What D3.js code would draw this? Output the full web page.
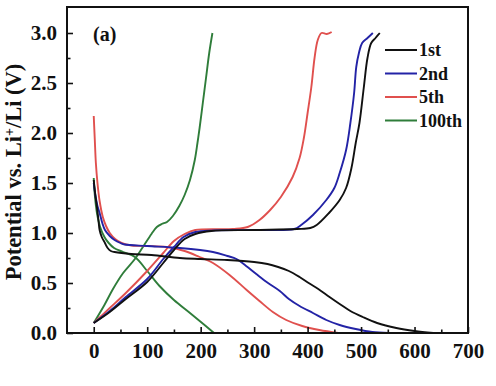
<!DOCTYPE html>
<html><head><meta charset="utf-8">
<script src="https://cdn.jsdelivr.net/npm/d3@7"></script>
<style>body{margin:0;background:#fff}svg{display:block}text{font-family:"Liberation Serif","Times New Roman",serif;font-weight:bold}</style>
</head><body>
<script>
// Capacity (mAh/g) vs potential (V) pairs
const cycles = ["1st", "2nd", "5th", "100th"];
const colors = ["#111111", "#2323a6", "#e0504e", "#2f7d3a"];

const discharge1st = [[0,1.53],[3,1.38],[6,1.26],[9,1.12],[11,1.03],[15,0.96],[21,0.9],[26,0.85],[32,0.82],[39,0.81],[70,0.79],[108,0.78],[161,0.75],[200,0.74],[250,0.73],[300,0.71],[325,0.69],[345,0.66],[365,0.62],[385,0.56],[402,0.50],[420,0.44],[441,0.36],[460,0.29],[480,0.22],[503,0.16],[530,0.10],[566,0.05],[600,0.02],[635,0.0]];
const discharge2nd = [[0,1.5],[3,1.38],[7,1.27],[11,1.2],[16,1.1],[21,1.03],[30,0.97],[39,0.93],[50,0.9],[58,0.885],[100,0.87],[161,0.85],[223,0.81],[250,0.77],[267,0.74],[285,0.67],[304,0.59],[326,0.50],[348,0.42],[365,0.34],[385,0.27],[410,0.20],[435,0.13],[460,0.08],[490,0.04],[521,0.01],[552,0.0]];
const discharge5th = [[0,2.17],[2,1.93],[4,1.7],[7,1.5],[11,1.32],[17,1.16],[23,1.07],[30,1.0],[40,0.94],[52,0.9],[71,0.875],[100,0.87],[136,0.86],[170,0.82],[198,0.76],[223,0.70],[254,0.58],[286,0.43],[310,0.32],[335,0.21],[360,0.13],[390,0.07],[422,0.03],[458,0.0]];
const discharge100th = [[0,1.55],[2,1.38],[6,1.2],[12,1.06],[20,0.96],[28,0.90],[38,0.85],[55,0.81],[77,0.76],[100,0.62],[123,0.47],[150,0.33],[180,0.20],[205,0.09],[225,0.0]];

const charge1st = [[0,0.10],[30,0.21],[60,0.34],[100,0.51],[130,0.70],[150,0.83],[170,0.94],[190,0.99],[220,1.02],[300,1.03],[380,1.04],[405,1.05],[417,1.08],[440,1.2],[460,1.33],[472,1.45],[482,1.65],[490,1.9],[497,2.1],[505,2.45],[512,2.75],[519,2.9],[527,2.95],[535,3.0]];
const charge2nd = [[0,0.10],[30,0.22],[60,0.36],[100,0.54],[130,0.74],[150,0.86],[168,0.96],[190,1.01],[300,1.03],[375,1.04],[388,1.08],[410,1.18],[435,1.33],[450,1.45],[460,1.6],[472,1.83],[480,2.1],[487,2.4],[491,2.66],[496,2.8],[502,2.9],[512,2.95],[522,3.0]];
const charge5th = [[0,0.10],[30,0.25],[60,0.40],[100,0.62],[130,0.80],[150,0.92],[170,0.99],[190,1.03],[260,1.04],[288,1.06],[310,1.13],[330,1.23],[350,1.36],[372,1.56],[385,1.75],[393,1.95],[400,2.2],[407,2.46],[413,2.75],[419,2.93],[426,3.0],[436,2.99],[445,3.01]];
const charge100th = [[0,0.10],[20,0.28],[36,0.44],[55,0.60],[77,0.74],[92,0.86],[108,0.99],[118,1.06],[127,1.09],[137,1.11],[148,1.17],[160,1.27],[170,1.38],[180,1.53],[189,1.73],[194,1.9],[198,2.05],[204,2.3],[210,2.55],[216,2.8],[222,3.0]];

const dischargeCurves = [discharge1st, discharge2nd, discharge5th, discharge100th];
const chargeCurves = [charge1st, charge2nd, charge5th, charge100th];

const xTicks = [0,100,200,300,400,500,600,700];
const xMinor = [50,150,250,350,450,550,650];
const yTicks = [0.0,0.5,1.0,1.5,2.0,2.5,3.0];
const yMinor = [0.25,0.75,1.25,1.75,2.25,2.75];
const yTitle = "Potential vs. Li";
const panelLabel = "(a)";

const W = 496, H = 386;
const m = {left: 67, top: 7, right: 28, bottom: 53};
const svg = d3.select("body").append("svg").attr("width", W).attr("height", H);
const x = d3.scaleLinear().domain([-50, 700]).range([m.left, W - m.right]);
const y = d3.scaleLinear().domain([0, 3.26]).range([H - m.bottom, m.top]);

const line = d3.line().x(d => x(d[0])).y(d => y(d[1])).curve(d3.curveCatmullRom.alpha(0.5));

const g = svg.append("g");
[3,2,1,0].forEach(i => {
  [dischargeCurves[i], chargeCurves[i]].forEach(c => {
    g.append("path").datum(c).attr("d", line).attr("fill", "none")
      .attr("stroke", colors[i]).attr("stroke-width", 1.9).attr("stroke-linejoin", "round");
  });
});

svg.append("rect").attr("x", x(-50)).attr("y", y(3.26)).attr("width", x(700) - x(-50))
  .attr("height", y(0) - y(3.26)).attr("fill", "none").attr("stroke", "#111").attr("stroke-width", 2);

const xAxis = svg.append("g").attr("transform", `translate(0,${y(0)})`)
  .call(d3.axisBottom(x).tickValues(xTicks).tickSizeInner(-6).tickSizeOuter(0).tickPadding(10).tickFormat(d3.format("d")));
svg.append("g").attr("transform", `translate(0,${y(0)})`)
  .call(d3.axisBottom(x).tickValues(xMinor).tickSizeInner(-3.5).tickSizeOuter(0).tickFormat(""));
const yAxis = svg.append("g").attr("transform", `translate(${x(-50)},0)`)
  .call(d3.axisLeft(y).tickValues(yTicks).tickSizeInner(-6).tickSizeOuter(0).tickPadding(10).tickFormat(d3.format(".1f")));
svg.append("g").attr("transform", `translate(${x(-50)},0)`)
  .call(d3.axisLeft(y).tickValues(yMinor).tickSizeInner(-3.5).tickSizeOuter(0).tickFormat(""));
svg.selectAll(".domain").remove();
svg.selectAll(".tick line").attr("stroke", "#111").attr("stroke-width", 1.6);
[xAxis, yAxis].forEach(a => a.selectAll("text").attr("font-size", 21).attr("fill", "#111")
  .attr("font-family", "Liberation Serif").attr("font-weight", "bold"));

const yt = svg.append("text").attr("transform", `translate(21,${(y(0)+y(3.26))/2 + 2}) rotate(-90)`)
  .attr("text-anchor", "middle").attr("font-size", 22.5).attr("fill", "#111");
yt.append("tspan").text(yTitle);
yt.append("tspan").text("+").attr("font-size", 14).attr("dy", -7);
yt.append("tspan").text("/Li (V)").attr("dy", 7);

svg.append("text").attr("x", 93).attr("y", 41).attr("font-size", 20).attr("fill", "#111").text(panelLabel);

cycles.forEach((c, i) => {
  const ly = 50 + i * 23.5;
  svg.append("line").attr("x1", 385).attr("x2", 417).attr("y1", ly).attr("y2", ly)
    .attr("stroke", colors[i]).attr("stroke-width", 2);
  svg.append("text").attr("x", 419).attr("y", ly + 6).attr("font-size", 18).attr("fill", "#111").text(c);
});
</script>
</body></html>
